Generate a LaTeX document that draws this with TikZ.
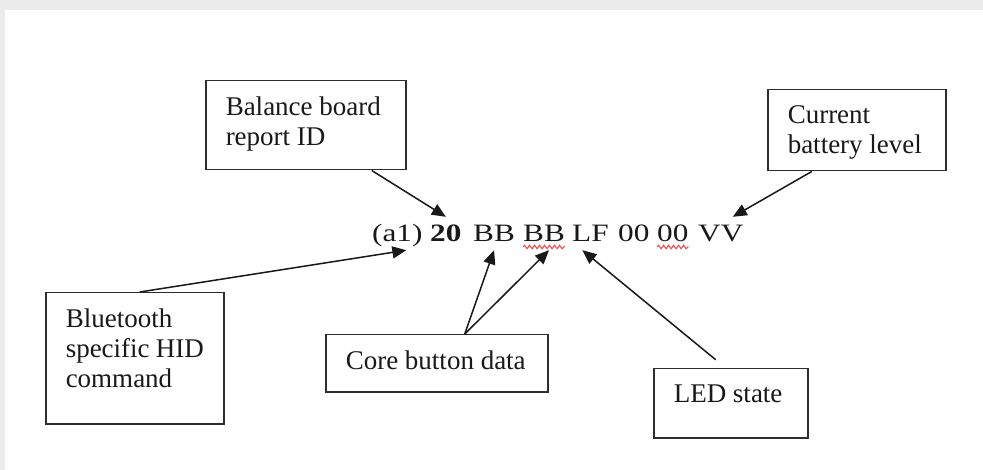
\documentclass[tikz,border=0pt]{standalone}
\usepackage{fontspec}
\usetikzlibrary{arrows.meta,decorations.pathmorphing}
\setmainfont{Liberation Serif}
\newfontfamily\codeserif[FakeStretch=1.25]{Liberation Serif}
\newcommand{\notefont}{\fontsize{27}{30}\selectfont}
\newcommand{\codefont}{\codeserif\fontsize{25}{29}\selectfont}
\newcommand{\notetext}[3]{\parbox[c][#2][t]{#1}{\raggedright #3}}
\definecolor{Ink}{RGB}{25,25,25}
\definecolor{Frame}{RGB}{45,45,45}
\definecolor{Squiggle}{RGB}{240,70,70}
\definecolor{Shade}{RGB}{236,236,236}

\begin{document}
\begin{tikzpicture}[x=1pt,y=-1pt,
    note/.style={draw=Frame,line width=1.5pt,anchor=north west,inner xsep=20pt,inner ysep=16pt,font=\notefont,text=Ink},
    code/.style={font=\codefont,text=Ink,anchor=base west,inner xsep=0pt,inner ysep=4pt,text height=21pt,text depth=4pt},
    pointer/.style={-{Triangle[length=14pt,width=12pt]},line width=1.5pt,draw=Ink},
    squiggle/.style={draw=Squiggle,line width=1pt,decorate,decoration={snake,amplitude=1.8pt,segment length=5pt}}]
    \useasboundingbox (0,0) rectangle (983,470);
    \fill[Shade] (0,0) rectangle (983,470);
    \fill[white] (5,10) rectangle (983,470);
    % the report bytes
    \node[code] (a1) at (372,242) {(a1)};
    \node[code] (id) at (430,242) {\textbf{20}};
    \node[code] (bb1) at (473,242) {BB};
    \node[code] (bb2) at (523,242) {BB};
    \node[code] (lf) at (572,242) {LF};
    \node[code] (z1) at (618,242) {00};
    \node[code] (z2) at (657,242) {00};
    \node[code] (vv) at (698,242) {VV};
    \draw[squiggle] ([yshift=-5pt]bb2.base west) -- ([yshift=-5pt]bb2.base east);
    \draw[squiggle] ([yshift=-5pt]z2.base west) -- ([yshift=-5pt]z2.base east);
    % the notes
    \node[note] (balance) at (205,80) {\notetext{160pt}{57pt}{Balance board\\report ID}};
    \node[note] (battery) at (767,89) {\notetext{138pt}{49pt}{Current\\battery level}};
    \node[note] (bluetooth) at (45,292) {\notetext{138pt}{99pt}{Bluetooth\\specific HID\\command}};
    \node[note] (core) at (325,334) {\notetext{182pt}{25pt}{Core button data}};
    \node[note] (led) at (653,368) {\notetext{114pt}{37pt}{LED state}};
    % pointers
    \draw[pointer] ([xshift=66pt]balance.south) -- (id.north);
    \draw[pointer] ([xshift=-45pt]battery.south) -- ([xshift=12pt]vv.north);
    \draw[pointer] ([xshift=5pt]bluetooth.north) -- ([xshift=9pt]a1.south);
    \draw[pointer] ([xshift=28pt]core.north) -- (bb1.south);
    \draw[pointer] ([xshift=28pt]core.north) -- ([xshift=5pt]bb2.south);
    \draw[pointer,shorten <=13pt] ([xshift=-5pt]led.north) -- ([xshift=-8pt]lf.south);
\end{tikzpicture}
\end{document}
